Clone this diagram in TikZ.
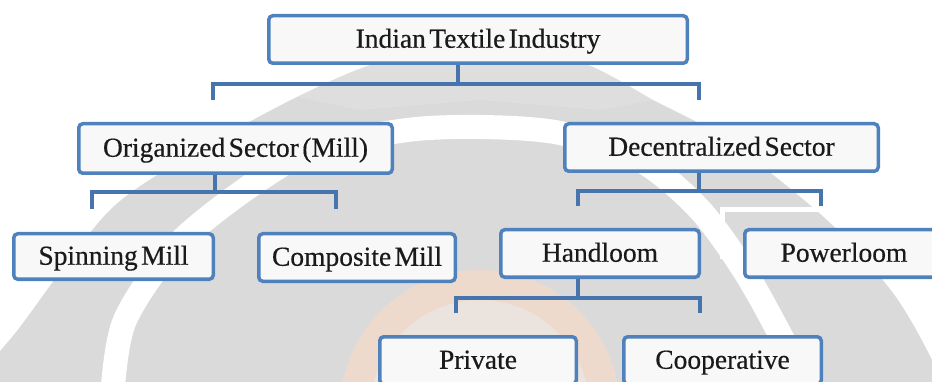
\documentclass[tikz,border=0pt]{standalone}
\usepackage{fontspec}
\setmainfont{Liberation Serif}[WordSpace=0.5, FakeBold=0.5]
\definecolor{boxblue}{HTML}{4F81BD}
\definecolor{linkblue}{HTML}{4774AD}
\definecolor{boxfill}{HTML}{F8F8F8}
\definecolor{wmgray}{HTML}{DADADA}
\definecolor{wmlight}{HTML}{E2E2E2}
\definecolor{wmorange}{HTML}{F0D3BE}
\definecolor{wmpeach}{HTML}{F6EAE2}
\definecolor{txt}{HTML}{1A1A1A}
\tikzset{
  box/.style={draw=boxblue, line width=3.5pt, fill=boxfill, rounded corners=4pt,
    font=\fontsize{27.5}{30}\selectfont, text=txt, text height=20.6pt, text depth=4.1pt,
    inner sep=0pt, align=center},
  conn/.style={draw=linkblue, line width=4pt},
}
\begin{document}
\begin{tikzpicture}[x=1pt,y=-1pt]
\useasboundingbox (0,0) rectangle (932,382);
\clip (0,0) rectangle (932,382);
% watermark
\fill[wmgray] plot[smooth] coordinates {(-10,400) (-5,360) (20,327) (110,210) (200,150) (297,97) (380,62) (480,45) (580,62) (653,100) (727,140) (827,220) (893,293) (932,360) (945,400)} -- cycle;
\fill[wmlight, opacity=0.6] plot[smooth] coordinates {(297,97) (380,62) (480,45) (580,62) (653,100)} -- (600,110) -- (480,100) -- (360,110) -- cycle;
\draw[white, line width=24pt] plot[smooth] coordinates {(112,400) (125,320) (185,237) (300,155) (400,131) (480,127) (560,133) (640,160) (700,210) (750,280) (805,382) (812,400)};
\fill[wmpeach, opacity=0.6] (480,410) circle (140);
\draw[wmorange, line width=30pt, opacity=0.55] (480,410) circle (125);
\draw[white, line width=5pt] (722,210) rectangle (922,257);
% nodes
\node[box, minimum width=418.5pt, minimum height=47.5pt] (top) at (478,39.5) {Indian Textile Industry};
\node[box, minimum width=313.5pt, minimum height=49.5pt] (org) at (235.5,148.5) {Origanized Sector (Mill)};
\node[box, minimum width=313.5pt, minimum height=47.5pt] (dec) at (721.5,147.5) {Decentralized Sector};
\node[box, minimum width=199.5pt, minimum height=45.5pt] (spin) at (113.5,256.5) {Spinning Mill};
\node[box, minimum width=196.5pt, minimum height=47.5pt] (comp) at (357,257.5) {Composite Mill};
\node[box, minimum width=198.5pt, minimum height=47.5pt] (hand) at (600,253.5) {Handloom};
\node[box, minimum width=198.5pt, minimum height=47.5pt] (power) at (844,253.5) {Powerloom};
\node[box, minimum width=196.5pt, minimum height=47.5pt] (priv) at (478,360.5) {Private};
\node[box, minimum width=197.5pt, minimum height=47.5pt] (coop) at (722.5,360.5) {Cooperative};
% connectors
\coordinate (j1) at (458,84);
\coordinate (l1a) at (213,100);
\coordinate (l1b) at (699,100);
\draw[conn] (top.south -| j1) -- (j1);
\draw[conn] (l1a) |- (j1) -| (l1b);
\coordinate (j2) at (215,192);
\coordinate (l2a) at (92,209);
\coordinate (l2b) at (336,209);
\draw[conn] (org.south -| j2) -- (j2);
\draw[conn] (l2a) |- (j2) -| (l2b);
\coordinate (j3) at (699,191);
\coordinate (l3a) at (578,206);
\coordinate (l3b) at (821,206);
\draw[conn] (dec.south -| j3) -- (j3);
\draw[conn] (l3a) |- (j3) -| (l3b);
\coordinate (j4) at (578,298);
\coordinate (l4a) at (456,313);
\coordinate (l4b) at (700,313);
\draw[conn] (hand.south -| j4) -- (j4);
\draw[conn] (l4a) |- (j4) -| (l4b);
\end{tikzpicture}
\end{document}
